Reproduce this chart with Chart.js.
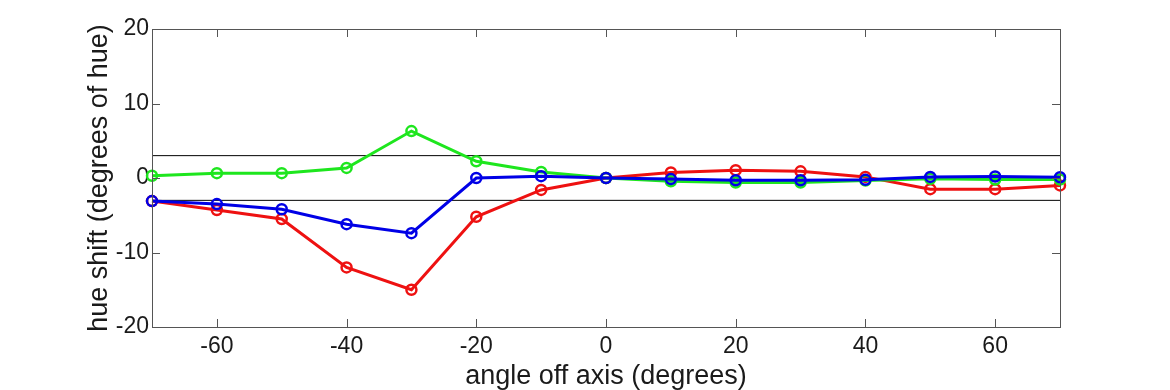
<!DOCTYPE html>
<html>
<head>
<meta charset="utf-8">
<script src="https://cdn.jsdelivr.net/npm/chart.js@4.4.1/dist/chart.umd.min.js"></script>
<style>
  html, body { margin: 0; padding: 0; background: #fff; }
</style>
</head>
<body>
<canvas id="chart" width="1170" height="390"></canvas>
<script>
// angles (degrees off axis)
const angles = [-70, -60, -50, -40, -30, -20, -10, 0, 10, 20, 30, 40, 50, 60, 70];
// hue shift per channel
const redShift = [-3.1, -4.3, -5.5, -12.0, -15.0, -5.2, -1.6, 0, 0.75, 1.05, 0.9, 0.15, -1.5, -1.5, -1.0];
const greenShift = [0.3, 0.65, 0.65, 1.35, 6.3, 2.25, 0.8, 0, -0.45, -0.6, -0.6, -0.35, -0.1, -0.2, -0.2];
const blueShift = [-3.1, -3.5, -4.2, -6.2, -7.4, 0, 0.25, 0, -0.15, -0.3, -0.3, -0.25, 0.15, 0.2, 0.1];
// tolerance band lines
const upperLimit = 3;
const lowerLimit = -3;
// tick values
const xTicks = [-60, -40, -20, 0, 20, 40, 60];
const yTicks = [-20, -10, 0, 10, 20];

const font = "'Liberation Sans', Arial, Helvetica, sans-serif";
const textColor = "#1a1a1a";
const axisColor = "#555";

const series = (vals) => angles.map((a, i) => ({ x: a, y: vals[i] }));
const limitLine = (v) => [{ x: angles[0], y: v }, { x: angles[angles.length - 1], y: v }];

const lineStyle = (color) => ({
  borderColor: color,
  backgroundColor: "transparent",
  borderWidth: 3,
  pointRadius: 5,
  pointBorderWidth: 2.5,
  pointBackgroundColor: "transparent",
  pointBorderColor: color,
  tension: 0,
  clip: false,
});

// box + inward tick marks, matlab style
const boxPlugin = {
  id: "box",
  afterDraw(chart) {
    const { ctx, chartArea: a, scales } = chart;
    ctx.save();
    ctx.strokeStyle = axisColor;
    ctx.lineWidth = 1;
    ctx.strokeRect(a.left + 0.5, a.top + 0.5, a.right - a.left, a.bottom - a.top);
    const len = 8;
    ctx.beginPath();
    xTicks.forEach((v) => {
      const px = Math.round(scales.x.getPixelForValue(v)) + 0.5;
      ctx.moveTo(px, a.bottom); ctx.lineTo(px, a.bottom - len);
      ctx.moveTo(px, a.top); ctx.lineTo(px, a.top + len);
    });
    yTicks.forEach((v) => {
      const py = Math.round(scales.y.getPixelForValue(v)) + 0.5;
      ctx.moveTo(a.left, py); ctx.lineTo(a.left + len, py);
      ctx.moveTo(a.right, py); ctx.lineTo(a.right - len, py);
    });
    ctx.stroke();
    ctx.restore();
  },
};

new Chart(document.getElementById("chart"), {
  type: "line",
  data: {
    datasets: [
      { data: series(blueShift), ...lineStyle("#0000e6") },
      { data: series(greenShift), ...lineStyle("#1ee61e") },
      { data: series(redShift), ...lineStyle("#ee1111") },
      { data: limitLine(upperLimit), borderColor: "#000", borderWidth: 1, pointRadius: 0 },
      { data: limitLine(lowerLimit), borderColor: "#000", borderWidth: 1, pointRadius: 0 },
    ],
  },
  options: {
    responsive: false,
    animation: false,
    layout: { padding: { left: 83, right: 110, top: 29, bottom: 0 } },
    plugins: { legend: { display: false }, tooltip: { enabled: false } },
    scales: {
      x: {
        type: "linear",
        min: -70,
        max: 70,
        afterBuildTicks: (s) => { s.ticks = xTicks.map((v) => ({ value: v })); },
        afterFit: (s) => { s.height = 63; },
        grid: { display: false, drawTicks: false },
        border: { display: false },
        ticks: { padding: 6, color: textColor, font: { family: font, size: 23 } },
        title: {
          display: true,
          text: "angle off axis (degrees)",
          color: textColor,
          padding: 0,
          font: { family: font, size: 27, lineHeight: 1 },
        },
      },
      y: {
        type: "linear",
        min: -20,
        max: 20,
        afterBuildTicks: (s) => { s.ticks = yTicks.map((v) => ({ value: v })); },
        afterFit: (s) => { s.width = 69; },
        grid: { display: false, drawTicks: false },
        border: { display: false },
        ticks: { padding: 3, color: textColor, font: { family: font, size: 23 } },
        title: {
          display: true,
          text: "hue shift (degrees of hue)",
          color: textColor,
          padding: 0,
          font: { family: font, size: 27, lineHeight: 1.2 },
        },
      },
    },
  },
  plugins: [boxPlugin],
});
</script>
</body>
</html>
